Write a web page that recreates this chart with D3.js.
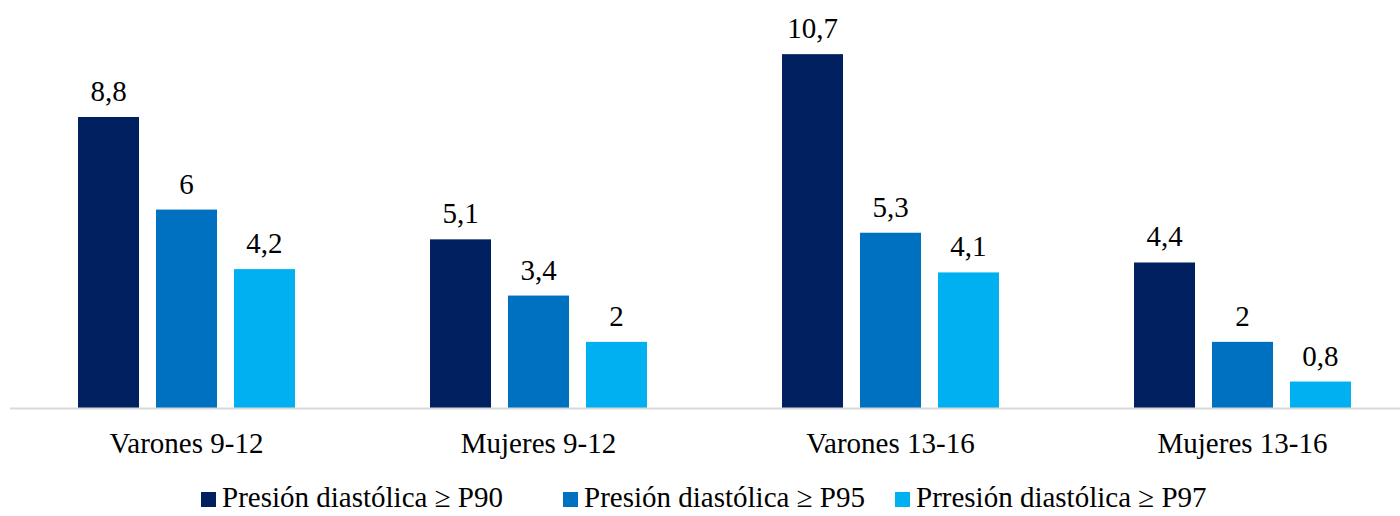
<!DOCTYPE html>
<html>
<head>
<meta charset="utf-8">
<script src="https://cdn.jsdelivr.net/npm/d3@7"></script>
<style>
  html, body { margin: 0; padding: 0; background: #fff; }
  svg { display: block; }
</style>
</head>
<body>
<svg id="chart" width="1400" height="516"></svg>
<script>
const categories = ["Varones 9-12", "Mujeres 9-12", "Varones 13-16", "Mujeres 13-16"];
const seriesNames = ["Presión diastólica ≥ P90", "Presión diastólica ≥ P95", "Prresión diastólica ≥ P97"];
const p90 = [8.8, 5.1, 10.7, 4.4];
const p95 = [6, 3.4, 5.3, 2];
const p97 = [4.2, 2, 4.1, 0.8];
const seriesColors = ["#002060", "#0070C0", "#00B0F0"];

const seriesValues = [p90, p95, p97];
const fmt = v => String(v).replace(".", ",");
const FONT = "'Liberation Serif', 'Times New Roman', Tinos, 'DejaVu Serif', serif";
const FS = "29px";

const svg = d3.select("#chart");
const baseY = 408;

const x0 = d3.scaleBand().domain(categories).range([10.5, 1418.5]).padding(0);
const x1 = d3.scaleBand().domain(d3.range(seriesNames.length))
  .range([0, x0.bandwidth()]).paddingInner(17 / 78).paddingOuter(0.8655);
const y = d3.scaleLinear().domain([0, 12]).range([baseY, baseY - 12 * 33.07]);

const groups = svg.append("g").selectAll("g")
  .data(categories).join("g")
  .attr("transform", d => `translate(${x0(d)},0)`);

groups.each(function(cat, ci) {
  const g = d3.select(this);
  seriesValues.forEach((vals, si) => {
    const v = vals[ci];
    g.append("rect")
      .attr("x", x1(si))
      .attr("y", y(v))
      .attr("width", x1.bandwidth())
      .attr("height", y(0) - y(v))
      .attr("fill", seriesColors[si]);
    g.append("text")
      .attr("x", x1(si) + x1.bandwidth() / 2)
      .attr("y", y(v) - 16)
      .attr("text-anchor", "middle")
      .style("font-family", FONT)
      .style("font-size", FS)
      .attr("fill", "#000")
      .text(fmt(v));
  });
});

// axis
const xAxis = d3.axisBottom(x0).tickSize(0).tickPadding(0);
const axisG = svg.append("g").attr("transform", `translate(0,${baseY})`).call(xAxis);
axisG.attr("font-family", null).attr("font-size", null);
axisG.select(".domain").attr("stroke", "#d9d9d9").attr("stroke-width", 2)
  .attr("d", `M10,0.5H1400`);
axisG.selectAll(".tick text")
  .attr("y", 45).attr("dy", null)
  .style("font-family", FONT)
  .style("font-size", FS)
  .attr("fill", "#000");

// legend
const legendX = [201, 563, 895];
const legend = svg.append("g");
seriesNames.forEach((name, i) => {
  legend.append("rect")
    .attr("x", legendX[i]).attr("y", 492)
    .attr("width", 15).attr("height", 15)
    .attr("fill", seriesColors[i]);
  legend.append("text")
    .attr("x", legendX[i] + 21).attr("y", 507)
    .style("font-family", FONT)
    .style("font-size", FS)
    .attr("fill", "#000")
    .text(name);
});
</script>
</body>
</html>
